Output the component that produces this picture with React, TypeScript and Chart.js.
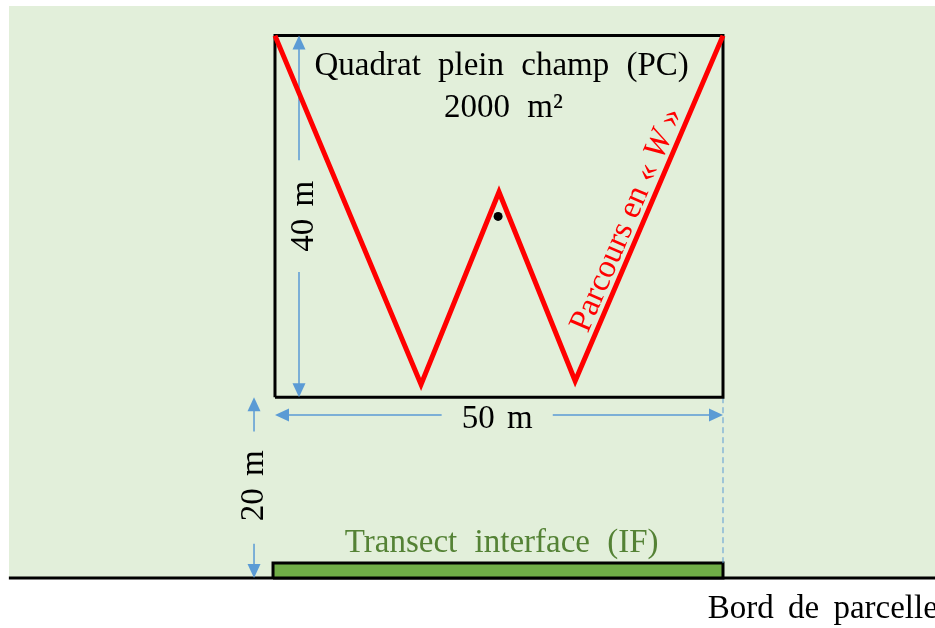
import React, { useEffect, useRef } from "react";
import { Chart, registerables } from "chart.js";

Chart.register(...registerables);

// ---- scale extents (metres) ----
const X_MIN = -30.69;
const X_MAX = 73.66;
const Y_MIN = -5.53;
const Y_MAX = 63.94;

// ---- field background & border ----
const fieldX = [-29.7, 73.66];
const fieldTopY = [63.27, 63.27];
const groundX = [-29.7, 73.66];
const groundY = [0, 0];

// ---- quadrat (50 m x 40 m, 20 m from the edge) ----
const quadratX = [0, 50, 50, 0, 0];
const quadratY = [20, 20, 60, 60, 20];

// ---- W path ----
const wPathX = [0, 16.3, 25.0, 33.5, 50];
const wPathY = [60, 21.4, 42.7, 21.8, 60];

// ---- centre point ----
const dotX = [24.9];
const dotY = [40.0];

// ---- transect interface bar ----
const transectTopX = [-0.22, 50];
const transectTopY = [1.66, 1.66];
const transectX = [-0.22, -0.22, 50, 50, -0.22];
const transectY = [0, 1.66, 1.66, 0, 0];

// ---- dashed guide ----
const guideX = [50, 50];
const guideY = [20, 1.66];

// ---- dimension arrows ----
const dimStartX = [2.68, 0, -2.34];
const dimStartY = [60, 18.03, 20];
const dimEndX = [2.68, 50, -2.34];
const dimEndY = [20, 18.03, 0];
const dimGapFrom = [0.345, 0.372, 0.19];
const dimGapTo = [0.654, 0.62, 0.81];

// ---- text labels ----
const labelTexts = [
  "Quadrat plein champ (PC)",
  "2000 m²",
  "40 m",
  "50 m",
  "20 m",
  "Transect interface (IF)",
  "Bord de parcelle",
];
const labelX = [25.3, 25.5, 4.24, 24.8, -1.34, 25.3, 48.3];
const labelY = [55.64, 51.0, 40.0, 16.6, 10.2, 2.88, -4.42];
const labelRotated = [false, false, true, false, true, false, false];
const labelColors = ["#000000", "#000000", "#000000", "#000000", "#000000", "#548235", "#000000"];
const labelAlign = ["center", "center", "center", "center", "center", "center", "left"];
const labelWordSpacing = [9, 9, 4, 4, 4, 9, 6];

const walkPieces = ["Parcours en « ", "W", " »"];
const walkItalic = [false, true, false];
const walkLabelX = [39.3];
const walkLabelY = [39.6];

const FONT = '33px "Liberation Serif", "Times New Roman", serif';
const FONT_IT = 'italic 33px "Liberation Serif", "Times New Roman", serif';
const BLUE = "#5b9bd5";

const pts = (xs: number[], ys: number[]) => xs.map((x, i) => ({ x, y: ys[i] }));

export default function App() {
  const ref = useRef<HTMLCanvasElement | null>(null);

  useEffect(() => {
    document.body.style.margin = "0";
    const canvas = ref.current;
    if (!canvas) return;

    const annotate = {
      id: "annotate",
      afterDatasetDraw(chart: any, args: any) {
        const ds = chart.data.datasets[args.index];
        if (ds.label !== "Quadrat") return;
        const ctx = chart.ctx as CanvasRenderingContext2D;
        const sx = chart.scales.x;
        const sy = chart.scales.y;
        ctx.save();
        ctx.strokeStyle = BLUE;
        ctx.fillStyle = BLUE;
        ctx.lineWidth = 1.5;
        for (let i = 0; i < dimStartX.length; i++) {
          const x1 = sx.getPixelForValue(dimStartX[i]);
          const y1 = sy.getPixelForValue(dimStartY[i]);
          const x2 = sx.getPixelForValue(dimEndX[i]);
          const y2 = sy.getPixelForValue(dimEndY[i]);
          const dx = x2 - x1;
          const dy = y2 - y1;
          const len = Math.hypot(dx, dy);
          const ux = dx / len;
          const uy = dy / len;
          const g1 = dimGapFrom[i];
          const g2 = dimGapTo[i];
          ctx.beginPath();
          ctx.moveTo(x1 + ux * 10, y1 + uy * 10);
          ctx.lineTo(x1 + dx * g1, y1 + dy * g1);
          ctx.moveTo(x1 + dx * g2, y1 + dy * g2);
          ctx.lineTo(x2 - ux * 10, y2 - uy * 10);
          ctx.stroke();
          const head = (tx: number, ty: number, dirx: number, diry: number) => {
            const L = 14;
            const W = 6.5;
            const bx = tx - dirx * L;
            const by = ty - diry * L;
            ctx.beginPath();
            ctx.moveTo(tx, ty);
            ctx.lineTo(bx - diry * W, by + dirx * W);
            ctx.lineTo(bx + diry * W, by - dirx * W);
            ctx.closePath();
            ctx.fill();
          };
          head(x1, y1, -ux, -uy);
          head(x2, y2, ux, uy);
        }
        ctx.restore();
      },
      afterDatasetsDraw(chart: any) {
        const ctx = chart.ctx as any;
        const sx = chart.scales.x;
        const sy = chart.scales.y;
        ctx.save();
        ctx.font = FONT;
        for (let i = 0; i < labelTexts.length; i++) {
          const px = sx.getPixelForValue(labelX[i]);
          const py = sy.getPixelForValue(labelY[i]);
          ctx.save();
          ctx.wordSpacing = labelWordSpacing[i] + "px";
          ctx.fillStyle = labelColors[i];
          ctx.textAlign = labelAlign[i];
          ctx.textBaseline = "alphabetic";
          ctx.translate(px, py);
          if (labelRotated[i]) ctx.rotate(-Math.PI / 2);
          ctx.fillText(labelTexts[i], 0, 0);
          ctx.restore();
        }
        // label along the last leg of the W
        const n = wPathX.length;
        const ax = sx.getPixelForValue(wPathX[n - 2]);
        const ay = sy.getPixelForValue(wPathY[n - 2]);
        const bx = sx.getPixelForValue(wPathX[n - 1]);
        const by = sy.getPixelForValue(wPathY[n - 1]);
        const ang = Math.atan2(by - ay, bx - ax);
        ctx.save();
        ctx.wordSpacing = "0px";
        ctx.fillStyle = "#ff0000";
        ctx.textAlign = "left";
        ctx.textBaseline = "middle";
        ctx.translate(sx.getPixelForValue(walkLabelX[0]), sy.getPixelForValue(walkLabelY[0]));
        ctx.rotate(ang);
        const widths = walkPieces.map((p, i) => {
          ctx.font = walkItalic[i] ? FONT_IT : FONT;
          return ctx.measureText(p).width;
        });
        const total = widths.reduce((a: number, b: number) => a + b, 0);
        let cx = -total / 2;
        walkPieces.forEach((p, i) => {
          ctx.font = walkItalic[i] ? FONT_IT : FONT;
          ctx.fillText(p, cx, 0);
          cx += widths[i];
        });
        ctx.restore();
        ctx.wordSpacing = "0px";
        ctx.restore();
      },
    };

    const chart = new Chart(canvas, {
      type: "scatter",
      data: {
        datasets: [
          {
            label: "Point",
            data: pts(dotX, dotY),
            showLine: false,
            pointRadius: 4.5,
            pointBackgroundColor: "#000000",
            pointBorderWidth: 0,
            order: 1,
          },
          {
            label: "W",
            data: pts(wPathX, wPathY),
            showLine: true,
            borderColor: "#ff0000",
            borderWidth: 5,
            borderJoinStyle: "miter",
            pointRadius: 0,
            fill: false,
            order: 2,
          },
          {
            label: "Quadrat",
            data: pts(quadratX, quadratY),
            showLine: true,
            borderColor: "#000000",
            borderWidth: 3,
            borderJoinStyle: "miter",
            pointRadius: 0,
            fill: false,
            order: 3,
          },
          {
            label: "Guide",
            data: pts(guideX, guideY),
            showLine: true,
            borderColor: BLUE,
            borderWidth: 1,
            borderDash: [6, 4],
            pointRadius: 0,
            fill: false,
            order: 4,
          },
          {
            label: "TransectBorder",
            data: pts(transectX, transectY),
            showLine: true,
            borderColor: "#000000",
            borderWidth: 3,
            borderJoinStyle: "miter",
            pointRadius: 0,
            fill: false,
            order: 5,
          },
          {
            label: "TransectFill",
            data: pts(transectTopX, transectTopY),
            showLine: true,
            borderWidth: 0,
            borderColor: "rgba(0,0,0,0)",
            backgroundColor: "#70ad47",
            pointRadius: 0,
            fill: "origin",
            order: 6,
          },
          {
            label: "Ground",
            data: pts(groundX, groundY),
            showLine: true,
            borderColor: "#000000",
            borderWidth: 3,
            pointRadius: 0,
            fill: false,
            order: 7,
          },
          {
            label: "Field",
            data: pts(fieldX, fieldTopY),
            showLine: true,
            borderWidth: 0,
            borderColor: "rgba(0,0,0,0)",
            backgroundColor: "#e2efda",
            pointRadius: 0,
            fill: "origin",
            order: 8,
          },
        ],
      },
      options: {
        animation: false,
        responsive: false,
        events: [],
        layout: { padding: 0, autoPadding: false },
        scales: {
          x: { type: "linear", min: X_MIN, max: X_MAX, display: false },
          y: { type: "linear", min: Y_MIN, max: Y_MAX, display: false },
        },
        plugins: {
          legend: { display: false },
          tooltip: { enabled: false },
        },
      },
      plugins: [annotate],
    } as any);

    return () => chart.destroy();
  }, []);

  return (
    <div style={{ width: 935, height: 628, background: "#ffffff" }}>
      <canvas ref={ref} width={935} height={628} />
    </div>
  );
}
